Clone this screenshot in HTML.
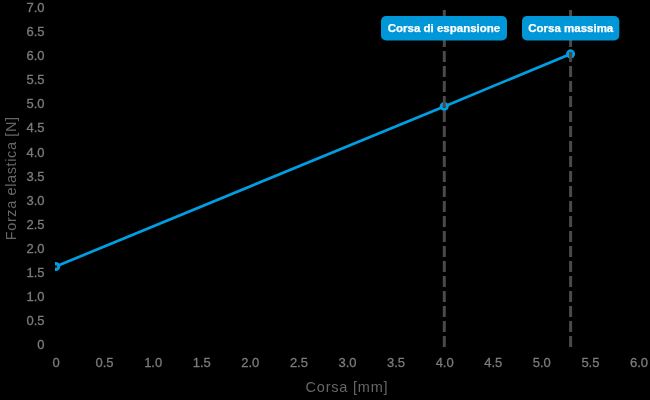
<!DOCTYPE html>
<html><head><meta charset="utf-8">
<style>
html,body{margin:0;padding:0;background:#000;width:650px;height:400px;overflow:hidden}
svg{display:block;will-change:transform}
text{font-family:"Liberation Sans",sans-serif}
.tk{stroke:#7b7b7b;stroke-width:0.3px;font-size:13px;fill:#7b7b7b}
.ttl{font-size:14.5px;fill:#666;letter-spacing:0.8px}
.lb{stroke:#fff;stroke-width:0.25px;font-size:11.5px;fill:#fff;font-weight:bold}
</style></head><body>
<svg width="650" height="400" viewBox="0 0 650 400">
<defs><clipPath id="ca"><rect x="55" y="0" width="595" height="400"/></clipPath></defs>
<text x="44.5" y="12.10" text-anchor="end" class="tk">7.0</text>
<text x="44.5" y="36.17" text-anchor="end" class="tk">6.5</text>
<text x="44.5" y="60.24" text-anchor="end" class="tk">6.0</text>
<text x="44.5" y="84.31" text-anchor="end" class="tk">5.5</text>
<text x="44.5" y="108.39" text-anchor="end" class="tk">5.0</text>
<text x="44.5" y="132.46" text-anchor="end" class="tk">4.5</text>
<text x="44.5" y="156.53" text-anchor="end" class="tk">4.0</text>
<text x="44.5" y="180.60" text-anchor="end" class="tk">3.5</text>
<text x="44.5" y="204.67" text-anchor="end" class="tk">3.0</text>
<text x="44.5" y="228.74" text-anchor="end" class="tk">2.5</text>
<text x="44.5" y="252.81" text-anchor="end" class="tk">2.0</text>
<text x="44.5" y="276.89" text-anchor="end" class="tk">1.5</text>
<text x="44.5" y="300.96" text-anchor="end" class="tk">1.0</text>
<text x="44.5" y="325.03" text-anchor="end" class="tk">0.5</text>
<text x="44.5" y="349.10" text-anchor="end" class="tk">0</text>
<text x="56.00" y="367.10" text-anchor="middle" class="tk">0</text>
<text x="104.58" y="367.10" text-anchor="middle" class="tk">0.5</text>
<text x="153.17" y="367.10" text-anchor="middle" class="tk">1.0</text>
<text x="201.75" y="367.10" text-anchor="middle" class="tk">1.5</text>
<text x="250.33" y="367.10" text-anchor="middle" class="tk">2.0</text>
<text x="298.92" y="367.10" text-anchor="middle" class="tk">2.5</text>
<text x="347.50" y="367.10" text-anchor="middle" class="tk">3.0</text>
<text x="396.08" y="367.10" text-anchor="middle" class="tk">3.5</text>
<text x="444.67" y="367.10" text-anchor="middle" class="tk">4.0</text>
<text x="493.25" y="367.10" text-anchor="middle" class="tk">4.5</text>
<text x="541.83" y="367.10" text-anchor="middle" class="tk">5.0</text>
<text x="590.42" y="367.10" text-anchor="middle" class="tk">5.5</text>
<text x="639.00" y="367.10" text-anchor="middle" class="tk">6.0</text>
<text class="ttl" style="letter-spacing:0.62px" transform="translate(16.3,178.3) rotate(-90)" text-anchor="middle">Forza elastica [N]</text>
<text class="ttl" x="347" y="392.4" text-anchor="middle">Corsa [mm]</text>
<g clip-path="url(#ca)">
<polyline points="55.75,266.5 444.25,106.4 570.6,54" fill="none" stroke="#009fe3" stroke-width="2.7" stroke-linejoin="round"/>
<circle cx="55.75" cy="266.5" r="3.0" fill="#3a2418" stroke="#009fe3" stroke-width="3.0"/>
<circle cx="444.25" cy="106.4" r="3.0" fill="#3a2418" stroke="#009fe3" stroke-width="3.0"/>
<circle cx="570.6" cy="54" r="3.0" fill="#3a2418" stroke="#009fe3" stroke-width="3.0"/>
</g>
<line x1="444.3" y1="346.9" x2="444.3" y2="10" stroke="#4a4a4a" stroke-width="3" stroke-dasharray="10.8 4.2"/>
<line x1="570.6" y1="346.9" x2="570.6" y2="10" stroke="#4a4a4a" stroke-width="3" stroke-dasharray="10.8 4.2"/>
<circle cx="444.3" cy="106" r="1.7" fill="rgba(110,60,30,0.45)"/>
<circle cx="570.6" cy="53.8" r="1.7" fill="rgba(110,60,30,0.45)"/>
<path d="M568.9,51.3 A3,3 0 0 1 572.3,51.3" fill="none" stroke="#009fe3" stroke-width="2.6"/>
<rect x="381" y="16" width="126" height="24.5" rx="5" fill="#0097d9"/>
<rect x="522" y="16" width="97.3" height="24.5" rx="5" fill="#0097d9"/>
<text class="lb" x="444" y="32" text-anchor="middle">Corsa di espansione</text>
<text class="lb" x="570.75" y="32" text-anchor="middle">Corsa massima</text>
</svg>
</body></html>
